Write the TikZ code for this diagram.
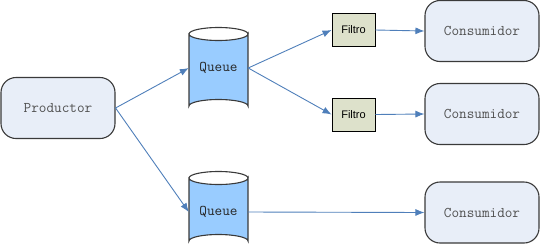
\documentclass[tikz,border=0pt]{standalone}
\usepackage{fontspec}
\setmainfont{Liberation Sans}
\usetikzlibrary{arrows.meta}
\definecolor{boxfill}{HTML}{E8EEF8}
\definecolor{boxline}{HTML}{3A3A3A}
\definecolor{qfill}{HTML}{99CCFF}
\definecolor{ffill}{HTML}{DDE1CB}
\definecolor{arrowblue}{HTML}{4F7FBA}
\definecolor{monotext}{HTML}{505050}
\tikzset{
  roundbox/.style={draw=boxline, line width=1.1bp, fill=boxfill, rounded corners=15bp,
    minimum width=114bp, minimum height=61bp, inner sep=0pt,
    font=\ttfamily\fontsize{14.8bp}{17bp}\selectfont, text=monotext},
  filterbox/.style={draw=black, line width=0.9bp, fill=ffill,
    minimum width=43bp, minimum height=33bp, inner sep=0pt,
    font=\fontsize{11bp}{13bp}\selectfont},
  queuelabel/.style={inner sep=0pt, minimum width=59bp,
    font=\ttfamily\fontsize{14.8bp}{17bp}\selectfont, text=black!85},
  cyl/.style={draw=boxline, line width=1.1bp, fill=qfill},
  flow/.style={draw=arrowblue, line width=0.9bp, -{Latex[length=9bp,width=7bp]}}
}
\begin{document}
\begin{tikzpicture}[x=1bp,y=-1bp]
\useasboundingbox (0,0) rectangle (540,249);

% cylinders for the two queues
\path[cyl] (189,34) -- (189,106) arc[start angle=180,end angle=360,x radius=29.5,y radius=6.5]
  -- (248,34) arc[start angle=0,end angle=180,x radius=29.5,y radius=6.5] -- cycle;
\draw[boxline, line width=1.1bp] (189,34) arc[start angle=180,end angle=360,x radius=29.5,y radius=6.5];
\path[cyl] (189,178) -- (189,241) arc[start angle=180,end angle=360,x radius=29.5,y radius=6.5]
  -- (248,178) arc[start angle=0,end angle=180,x radius=29.5,y radius=6.5] -- cycle;
\draw[boxline, line width=1.1bp] (189,178) arc[start angle=180,end angle=360,x radius=29.5,y radius=6.5];

\node[roundbox] (prod) at (58,108) {Productor};
\node[queuelabel] (q1) at (218.5,68) {Queue};
\node[queuelabel] (q2) at (218.5,212) {Queue};
\node[filterbox] (f1) at (353.5,30) {Filtro};
\node[filterbox] (f2) at (353.5,114.5) {Filtro};
\node[roundbox] (c1) at (482,31) {Consumidor};
\node[roundbox] (c2) at (482,114) {Consumidor};
\node[roundbox] (c3) at (482,212.5) {Consumidor};

\draw[flow] (prod.east) -- (q1.west);
\draw[flow] (prod.east) -- (q2.west);
\draw[flow] (q1.east) -- (f1.west);
\draw[flow] (q1.east) -- (f2.west);
\draw[flow] (f1.east) -- (c1.west);
\draw[flow] (f2.east) -- (c2.west);
\draw[flow] (q2.east) -- (c3.west);
\end{tikzpicture}
\end{document}
